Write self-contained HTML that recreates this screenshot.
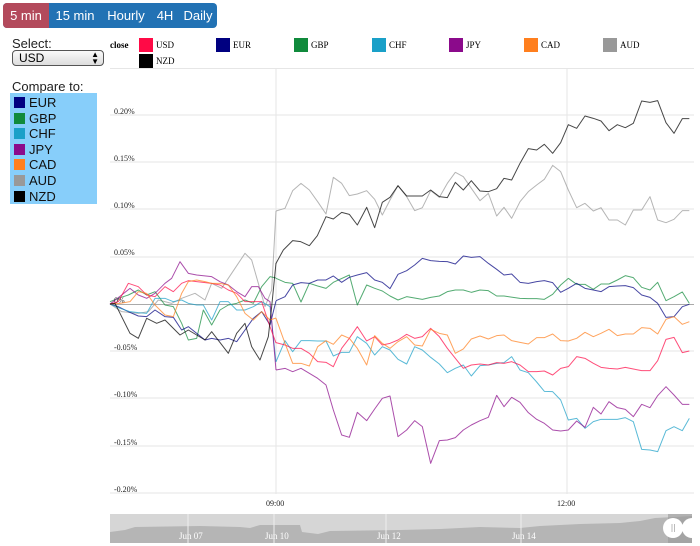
<!DOCTYPE html>
<html><head><meta charset="utf-8">
<style>
body{margin:0;width:700px;height:546px;background:#fff;font-family:"Liberation Sans",sans-serif;position:relative;overflow:hidden}
.btns{position:absolute;left:3px;top:3px;height:25px;width:214px;background:#2272b4;border-radius:4px;overflow:hidden;display:flex;color:#fff;font-size:13px;line-height:25px}
.btns div{padding:0 0 0 0;text-align:center}
.lbl{position:absolute;font-size:13px;color:#222}
.sel{position:absolute;left:12px;top:50px;width:84px;height:14px;border:1px solid #555;border-radius:4px;background:linear-gradient(#fafafa,#ddd);font-size:12px;line-height:14px;padding-left:6px;box-sizing:content-box}
.cmp{position:absolute;left:10px;top:93px;width:87px;height:111px;background:#87cefa;padding-top:2px;box-sizing:border-box}
.cmp div{height:15.6px;font-size:13px;line-height:16px;position:relative;padding-left:19px;color:#111}
.cmp span{position:absolute;left:4px;top:2px;width:11px;height:11px}
svg{position:absolute;left:0;top:0}
</style></head><body>
<div class="btns">
<div style="width:46px;background:#b34a5c">5 min</div>
<div style="width:52px">15 min</div>
<div style="width:50px">Hourly</div>
<div style="width:28px">4H</div>
<div style="width:38px">Daily</div>
</div>
<div class="lbl" style="left:12px;top:36px">Select:</div>
<div class="sel">USD<span style="position:absolute;right:4px;top:0;font-size:8px;line-height:7px">▲<br>▼</span></div>
<div class="lbl" style="left:12px;top:79px">Compare to:</div>
<div class="cmp">
<div><span style="background:#000080"></span>EUR</div>
<div><span style="background:#108a3c"></span>GBP</div>
<div><span style="background:#1aa0c8"></span>CHF</div>
<div><span style="background:#8b0a8b"></span>JPY</div>
<div><span style="background:#ff7f1e"></span>CAD</div>
<div><span style="background:#999"></span>AUD</div>
<div><span style="background:#000"></span>NZD</div>
</div>
<svg width="700" height="546" font-family="Liberation Serif" font-size="9">
<text x="110" y="48" font-weight="bold" font-size="9">close</text>
<g font-size="9">
<rect x="139" y="38" width="14" height="14" fill="#ff0a46"/><text x="156" y="48">USD</text>
<rect x="216" y="38" width="14" height="14" fill="#000080"/><text x="233" y="48">EUR</text>
<rect x="294" y="38" width="14" height="14" fill="#108a3c"/><text x="311" y="48">GBP</text>
<rect x="372" y="38" width="14" height="14" fill="#1aa0c8"/><text x="389" y="48">CHF</text>
<rect x="449" y="38" width="14" height="14" fill="#8b0a8b"/><text x="466" y="48">JPY</text>
<rect x="524" y="38" width="14" height="14" fill="#ff7f1e"/><text x="541" y="48">CAD</text>
<rect x="603" y="38" width="14" height="14" fill="#999"/><text x="620" y="48">AUD</text>
<rect x="139" y="54" width="14" height="14" fill="#000"/><text x="156" y="64">NZD</text>
</g>
<line x1="110" x2="694" y1="68.5" y2="68.5" stroke="#e6e6e6"/>
<g stroke="#e6e6e6">
<line x1="110" x2="694" y1="115" y2="115"/><line x1="110" x2="694" y1="162" y2="162"/>
<line x1="110" x2="694" y1="209" y2="209"/><line x1="110" x2="694" y1="257" y2="257"/>
<line x1="110" x2="694" y1="351" y2="351"/><line x1="110" x2="694" y1="398" y2="398"/>
<line x1="110" x2="694" y1="446" y2="446"/><line x1="110" x2="694" y1="493" y2="493"/>
<line x1="276" x2="276" y1="68" y2="494"/><line x1="567" x2="567" y1="68" y2="494"/>
</g>
<line x1="110" x2="694" y1="304.5" y2="304.5" stroke="#aaa"/>
<g font-size="8" fill="#222">
<text x="114" y="114">0.20%</text><text x="114" y="161">0.15%</text><text x="114" y="208">0.10%</text>
<text x="114" y="255">0.05%</text><text x="114" y="303">0%</text><text x="114" y="350">-0.05%</text>
<text x="114" y="397">-0.10%</text><text x="114" y="445">-0.15%</text><text x="114" y="492">-0.20%</text>
<text x="266" y="506">09:00</text><text x="557" y="506">12:00</text>
</g>
<g fill="none" stroke-width="3" stroke-opacity="0.72" stroke-linejoin="round">
<g transform="translate(105,240) scale(0.33333)">
<polyline stroke="#999" points="15,192 50,215 100,220 130,215 160,180 200,190 230,175 270,160 300,180 320,130 350,145 380,100 420,40 440,60 460,130 480,200 500,150 513,-87"/>
<polyline stroke="#108a3c" points="15,185 40,175 70,165 100,150 125,165 150,155 180,195 205,200 230,250 250,300 275,295 295,210 320,255 345,210 370,195 395,190 420,180 445,190 470,140 495,110 513,114"/>
<polyline stroke="#000080" points="15,192 40,200 70,215 100,228 125,230 150,210 180,230 205,232 230,270 250,260 300,300 320,295 345,300 370,295 395,305 420,270 445,235 470,215 495,255 513,183"/>
<polyline stroke="#1aa0c8" points="15,192 45,205 75,215 100,218 125,220 150,175 180,175 205,185 230,180 250,190 275,195 295,195 320,240 345,185 370,185 395,210 420,210 445,200 470,185 495,200 513,366"/>
<polyline stroke="#8b0a8b" points="15,192 50,165 75,145 100,165 125,175 150,160 180,130 200,115 225,65 250,100 275,105 320,110 345,125 370,135 395,155 420,170 440,140 460,140 480,175 495,185 513,390"/>
<polyline stroke="#ff0a46" points="15,192 40,185 70,130 100,140 125,165 150,170 180,140 205,155 230,130 250,122 275,125 320,130 345,135 370,150 395,160 420,185 445,185 470,185 495,260 513,309"/>
<polyline stroke="#ff7f1e" points="15,192 45,190 75,185 100,155 125,160 150,195 180,225 205,230 230,160 250,125 275,120 300,125 320,130 345,130 370,135 395,170 420,220 445,240 470,215 495,240 513,234"/>
<polyline stroke="#000" points="15,192 30,190 75,280 100,295 125,235 155,250 180,240 225,285 250,270 300,300 320,275 370,340 395,280 420,250 440,320 465,360 490,290 500,200 513,69"/>
</g>
<g transform="translate(270,90) scale(0.33333)">
<polyline stroke="#999" points="18,363 45,355 68,302 93,280 118,300 143,335 168,372 190,262 215,280 238,317 262,312 290,302 314,328 337,375 360,330 384,287 410,320 434,362 457,353 482,302 508,322 532,280 556,247 580,260 604,295 630,332 655,310 680,378 702,352 725,385 750,335 775,305 800,285 823,268 848,226 872,245 895,300 920,353 945,340 970,363 993,353 1017,390 1042,390 1066,405 1090,360 1115,360 1140,320 1163,390 1188,398 1212,388 1237,362 1258,362"/>
<polyline stroke="#108a3c" points="18,565 45,577 68,580 93,636 118,580 143,588 168,595 190,577 238,555 262,645 290,585 314,595 337,603 360,618 384,630 410,620 457,628 482,622 508,618 532,605 556,600 580,600 604,607 630,600 655,602 680,618 702,618 750,625 775,626 800,626 823,628 848,613 872,585 895,565 920,583 945,583 970,598 993,582 1017,582 1042,570 1066,557 1090,563 1115,592 1140,600 1163,577 1188,632 1212,620 1237,606 1258,640"/>
<polyline stroke="#000080" points="18,632 45,620 68,585 93,578 118,580 143,570 168,570 190,558 215,577 238,562 262,555 290,548 314,570 337,577 360,596 384,553 410,542 434,525 457,505 482,512 508,514 532,515 556,522 580,498 604,502 630,500 655,520 680,538 702,555 725,552 750,577 775,580 800,575 823,572 848,578 872,607 895,595 920,580 945,595 970,600 993,605 1017,590 1042,588 1066,587 1090,593 1115,615 1140,622 1163,640 1188,682 1212,680 1237,650 1258,643"/>
<polyline stroke="#1aa0c8" points="18,815 45,752 68,785 93,752 118,752 143,753 168,753 190,798 215,787 238,787 262,740 290,760 314,795 337,770 360,780 384,808 410,822 434,770 457,780 482,802 508,822 532,848 556,835 580,825 604,858 630,827 655,825 680,820 702,818 725,800 750,840 775,848 800,876 823,904 848,905 872,930 895,990 920,985 945,1015 970,995 993,988 1042,988 1066,983 1090,995 1115,1078 1140,1080 1163,1085 1188,1022 1212,1010 1237,1022 1258,985"/>
<polyline stroke="#8b0a8b" points="18,840 45,835 68,845 93,835 118,850 143,865 168,885 190,960 215,1035 238,1042 262,967 290,992 314,957 337,925 360,918 384,1040 410,1020 434,992 457,1010 482,1120 508,1052 532,1050 556,1043 580,1020 604,1005 630,992 655,982 680,916 702,950 725,922 750,937 775,968 800,988 823,1000 848,1020 872,1023 895,1020 920,993 945,1012 970,952 993,972 1017,935 1042,953 1066,958 1090,980 1115,943 1140,953 1163,917 1188,890 1212,915 1237,943 1258,943"/>
<polyline stroke="#ff0a46" points="18,758 45,765 68,775 93,775 118,790 143,815 168,817 190,830 215,775 238,745 262,710 290,753 314,740 337,765 360,760 384,750 410,733 434,745 457,740 482,715 508,740 532,775 556,805 580,835 604,825 630,822 655,825 680,818 702,820 725,815 750,825 775,845 800,845 823,843 848,855 872,835 895,830 920,800 945,805 970,820 993,832 1017,835 1042,837 1066,832 1090,837 1115,842 1140,842 1163,812 1188,748 1212,742 1237,788 1258,783"/>
<polyline stroke="#ff7f1e" points="18,685 45,760 68,820 93,820 118,828 143,770 168,752 190,763 215,735 238,745 262,775 290,825 314,737 337,760 360,775 384,755 410,740 434,765 457,768 482,718 508,730 532,735 556,790 580,777 604,747 630,738 655,747 680,737 702,735 725,752 750,757 775,762 800,743 823,743 848,732 872,752 895,753 920,745 945,727 970,740 993,730 1017,718 1042,737 1066,732 1090,732 1115,713 1140,715 1163,732 1188,688 1212,680 1237,703 1258,695"/>
<polyline stroke="#000" points="18,520 40,480 68,452 92,455 118,467 142,437 168,380 190,387 215,367 238,373 262,405 290,352 314,413 337,337 360,322 384,287 410,318 457,318 482,300 508,320 532,323 556,277 580,300 604,272 630,303 655,305 680,296 702,265 725,270 750,220 775,176 800,180 823,163 848,190 872,158 895,104 920,115 945,78 970,85 993,93 1017,122 1042,104 1066,113 1090,100 1115,33 1140,37 1163,32 1188,98 1212,130 1237,86 1258,86"/>
</g>
</g>
<rect x="110" y="514" width="582" height="29" fill="#d6d6d6"/>
<path d="M110,543 L110,532 L125,530 L135,527 L200,526 L240,527 L250,528 L260,525 L300,525 L302,532 L318,534 L330,531 L400,530 L440,529 L460,528 L480,527 L520,528 L540,526 L580,524 L620,523 L640,521 L655,518 L692,516 L692,543 Z" fill="#b5b5b5"/>
<g stroke="#efefef"><line x1="188" x2="188" y1="514" y2="543"/><line x1="274" x2="274" y1="514" y2="543"/><line x1="386" x2="386" y1="514" y2="543"/><line x1="521" x2="521" y1="514" y2="543"/></g>
<g fill="#fff" font-size="9"><text x="179" y="539">Jun 07</text><text x="265" y="539">Jun 10</text><text x="377" y="539">Jun 12</text><text x="512" y="539">Jun 14</text></g>
<rect x="668" y="514" width="24" height="29" fill="#999" opacity="0.6"/>
<circle cx="673" cy="528" r="10" fill="#fff"/><circle cx="692" cy="528" r="10" fill="#fff"/>
<g stroke="#bbb"><line x1="672" x2="672" y1="524" y2="532"/><line x1="674.5" x2="674.5" y1="524" y2="532"/></g>
</svg>
</body></html>
